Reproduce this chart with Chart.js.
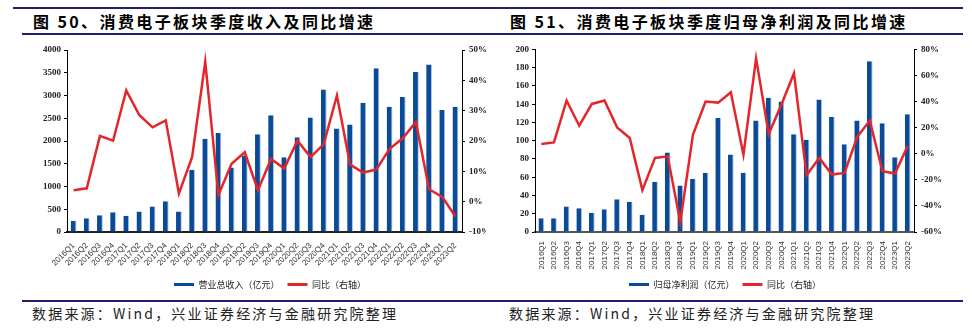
<!DOCTYPE html>
<html>
<head>
<meta charset="utf-8">
<script src="https://cdn.jsdelivr.net/npm/chart.js@4.4.1/dist/chart.umd.min.js"></script>
<style>
  html, body { margin: 0; padding: 0; background: #fff; }
  body { width: 972px; height: 330px; position: relative; overflow: hidden; font-family: "Noto Sans CJK SC", sans-serif; }
  .hline { position: absolute; background: #1f1f6b; }
  .title { position: absolute; top: 11px; font-size: 16px; font-weight: bold; color: #000; letter-spacing: 2.4px; white-space: nowrap; line-height: 20px; }
  .src { position: absolute; top: 304px; font-size: 14px; color: #222; letter-spacing: 2.2px; white-space: nowrap; line-height: 18px; }
  .box { position: absolute; top: 40px; width: 486px; height: 260px; }
</style>
</head>
<body>
<div class="hline" style="left:13px; width:950px; top:7px; height:2px;"></div>
<div class="hline" style="left:22px; width:941px; top:33px; height:1.5px;"></div>
<div class="hline" style="left:22px; width:941px; top:300px; height:2px;"></div>
<div class="title" style="left:33px;">图 50、消费电子板块季度收入及同比增速</div>
<div class="title" style="left:510px;">图 51、消费电子板块季度归母净利润及同比增速</div>
<div class="src" style="left:32px;">数据来源：Wind，兴业证券经济与金融研究院整理</div>
<div class="src" style="left:509px;">数据来源：Wind，兴业证券经济与金融研究院整理</div>
<div class="box" style="left:0;"><canvas id="c1" width="486" height="260"></canvas></div>
<div class="box" style="left:486px;"><canvas id="c2" width="486" height="260"></canvas></div>
<script>
const quarters = ["2016Q1","2016Q2","2016Q3","2016Q4","2017Q1","2017Q2","2017Q3","2017Q4",
  "2018Q1","2018Q2","2018Q3","2018Q4","2019Q1","2019Q2","2019Q3","2019Q4",
  "2020Q1","2020Q2","2020Q3","2020Q4","2021Q1","2021Q2","2021Q3","2021Q4",
  "2022Q1","2022Q2","2022Q3","2022Q4","2023Q1","2023Q2"];

const revenue = [245, 300, 370, 435, 355, 450, 560, 675, 450, 1370, 2050, 2175, 1420, 1680, 2150, 2565,
  1645, 2080, 2515, 3130, 2275, 2365, 2840, 3600, 2755, 2965, 3515, 3680, 2680, 2755];
const revenueYoY = [3.8, 4.4, 21.7, 20.1, 36.7, 28.5, 24.5, 26.8, 2.7, 14.7, 46.2, 2.2, 12.5, 16.3, 3.8, 14.1,
  10.9, 20.1, 14.7, 19.0, 35.0, 12.2, 9.6, 10.6, 17.4, 20.9, 26.3, 4.1, 1.6, -4.9];

const profit = [15, 15, 28, 26, 21, 25, 36, 33, 19, 55, 87, 51, 58, 65, 125, 85,
  65, 122, 147, 143, 107, 101, 145, 126, 96, 122, 187, 119, 82, 129];
const profitYoY = [7.5, 8.7, 40.8, 21.5, 38.2, 40.8, 20.2, 12.1, -27.9, -3.2, -2.0, -52.4, 14.6, 40.0, 39.2, 47.2,
  -0.7, 73.1, 15.1, 37.5, 61.7, -16.5, -3.2, -16.0, -14.7, 12.8, 25.5, -13.4, -15.2, 6.2];

const leftTicks1 = { min: 0, max: 4000, step: 500 };
const rightTicks1 = { min: -10, max: 50, step: 10 };
const leftTicks2 = { min: 0, max: 200, step: 20 };
const rightTicks2 = { min: -60, max: 80, step: 20 };

const barLabel1 = "营业总收入（亿元）";
const barLabel2 = "归母净利润（亿元）";
const lineLabel = "同比（右轴）";

const BLUE = "#0a4a96";
const LIGHT = "#a9c2e4";
const RED = "#e3262b";
const tickFont = { family: "Liberation Serif", size: 9, weight: "bold" };

function makeChart(id, barData, lineData, barLabel, lt, rt, opts) {
  return new Chart(document.getElementById(id), {
    data: {
      labels: quarters,
      datasets: [
        { type: "line", label: lineLabel, data: lineData, yAxisID: "y1", order: 0,
          borderColor: RED, backgroundColor: RED, borderWidth: 2.5, pointRadius: 0, tension: 0 },
        { type: "bar", label: barLabel, data: barData, yAxisID: "y", order: 1,
          backgroundColor: BLUE, borderColor: LIGHT,
          borderWidth: { left: 0, right: 1, top: 0, bottom: 0 }, borderSkipped: false,
          barPercentage: opts.barPct, categoryPercentage: 1 }
      ]
    },
    plugins: [{
      id: "legendShift",
      afterUpdate(chart) {
        const lg = chart.legend;
        if (lg) {
          lg.left += opts.legendShift; lg.right += opts.legendShift;
          if (lg.adjustHitBoxes) lg.adjustHitBoxes();
        }
      }
    }],
    options: {
      responsive: false, animation: false,
      layout: { padding: { top: opts.padTop, left: 0, right: 0, bottom: opts.padBottom } },
      plugins: {
        tooltip: { enabled: false },
        legend: {
          position: "bottom",
          reverse: true,
          labels: {
            boxWidth: 20, boxHeight: 3, padding: 8, color: "#222",
            font: { family: "Noto Sans CJK SC", size: 9 },
            generateLabels(chart) {
              const items = Chart.defaults.plugins.legend.labels.generateLabels(chart);
              items.forEach(it => {
                const ds = chart.data.datasets[it.datasetIndex];
                it.fillStyle = ds.type === "line" ? RED : BLUE;
                it.strokeStyle = it.fillStyle;
                it.lineWidth = 0;
              });
              return items;
            }
          }
        }
      },
      scales: {
        x: {
          grid: { display: false },
          border: { display: true, color: opts.xBorder, width: 2 },
          ticks: { autoSkip: false, maxRotation: opts.rot, minRotation: opts.rot, padding: 1,
                   color: "#333", font: { family: "Liberation Sans", size: 8 } },
          afterFit(s) { s.height = opts.xHeight; }
        },
        y: {
          position: "left", min: lt.min, max: lt.max,
          grid: { display: true, drawOnChartArea: false, drawTicks: true, tickLength: 3, color: "#000" },
          border: { display: true, color: "#000", width: 1 },
          ticks: { stepSize: lt.step, padding: 3, color: "#222", font: tickFont,
                   callback: v => String(v) },
          afterFit(s) { s.width = opts.yWidth; }
        },
        y1: {
          position: "right", min: rt.min, max: rt.max,
          grid: { display: true, drawOnChartArea: false, drawTicks: true, tickLength: 3, color: "#000" },
          border: { display: true, color: "#000", width: 1 },
          ticks: { stepSize: rt.step, padding: 4, color: "#222", font: tickFont,
                   callback: v => v + "%" },
          afterFit(s) { s.width = opts.y1Width; }
        }
      }
    }
  });
}

makeChart("c1", revenue, revenueYoY, barLabel1, leftTicks1, rightTicks1,
  { barPct: 0.44, padTop: 10, padBottom: 1, yWidth: 67, y1Width: 24,
    xHeight: 40, rot: 45, xBorder: "#222", legendShift: 27 });
makeChart("c2", profit, profitYoY, barLabel2, leftTicks2, rightTicks2,
  { barPct: 0.45, padTop: 9, padBottom: 1, yWidth: 49, y1Width: 58,
    xHeight: 40, rot: 90, xBorder: "#555", legendShift: -4 });
</script>
</body>
</html>
